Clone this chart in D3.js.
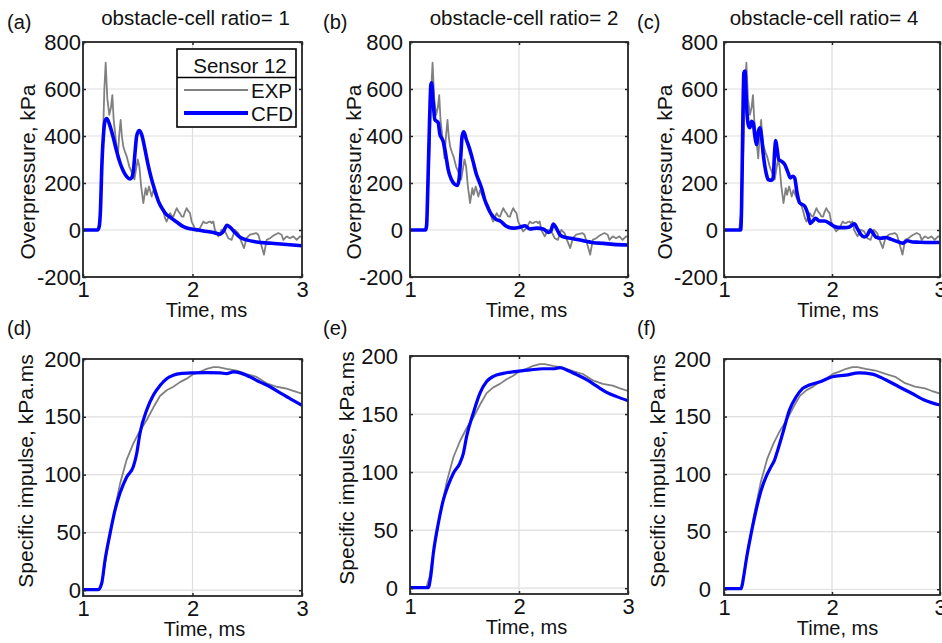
<!DOCTYPE html>
<html>
<head>
<meta charset="utf-8">
<script src="https://cdn.jsdelivr.net/npm/d3@7"></script>
<style>
  body { margin: 0; background: #fff; }
  svg { font-family: "Liberation Sans", Arial, sans-serif; }
</style>
</head>
<body>
<svg id="fig" width="942" height="643"></svg>
<script>
"use strict";

// time in ms, overpressure in kPa, impulse in kPa.ms
var timeTicks = [1, 2, 3];
var pressureTicks = [-200, 0, 200, 400, 600, 800];
var impulseTicks = [0, 50, 100, 150, 200];
var ratios = [1, 2, 4];
var letters = ["(a)", "(b)", "(c)", "(d)", "(e)", "(f)"];
var seriesNames = ["EXP", "CFD"];

var expPressure = [[1.00,0],[1.14,0],[1.16,80],[1.18,350],[1.195,600],[1.207,712],[1.222,560],[1.24,490],
  [1.255,520],[1.268,574],[1.28,470],[1.29,426],[1.305,360],[1.317,305],[1.33,400],[1.344,468],[1.355,400],
  [1.368,355],[1.385,330],[1.40,312],[1.423,270],[1.45,240],[1.47,215],[1.485,260],[1.50,300],[1.515,270],
  [1.53,190],[1.551,114],[1.572,178],[1.584,150],[1.603,185],[1.615,165],[1.627,142],[1.643,170],[1.66,150],
  [1.68,130],[1.703,114],[1.72,100],[1.733,80],[1.75,50],[1.764,36],[1.78,55],[1.795,72],[1.81,60],[1.825,57],
  [1.84,75],[1.856,93],[1.87,80],[1.886,71],[1.90,58],[1.917,57],[1.93,75],[1.947,93],[1.962,80],[1.977,72],
  [1.992,36],[2.014,15],[2.038,-6],[2.068,8],[2.099,36],[2.115,30],[2.129,29],[2.145,34],[2.16,36],[2.175,30],
  [2.19,36],[2.205,0],[2.236,-27],[2.266,1],[2.297,-6],[2.327,-35],[2.357,-42],[2.388,1],[2.418,-13],[2.44,-42],
  [2.47,-77],[2.494,-35],[2.525,-20],[2.555,-16],[2.58,-13],[2.601,-20],[2.632,-70],[2.653,-105],[2.677,-42],
  [2.708,-35],[2.73,-27],[2.753,-20],[2.784,-13],[2.814,-20],[2.83,-42],[2.86,-27],[2.89,-35],[2.921,-27],
  [2.951,-42],[2.982,-27],[3.0,-30]];

var cfdPressure1 = [[1.00,0],[1.135,0],[1.149,17],[1.161,102],[1.17,244],[1.186,399],[1.201,463],[1.218,474],
  [1.247,442],[1.277,392],[1.307,336],[1.338,286],[1.368,251],[1.399,227],[1.429,217],[1.444,222],[1.46,251],
  [1.475,329],[1.49,399],[1.512,423],[1.536,406],[1.566,343],[1.597,272],[1.627,215],[1.658,166],[1.688,123],
  [1.718,95],[1.764,65],[1.795,55],[1.825,44],[1.856,34],[1.917,14],[1.977,5],[2.038,1],[2.099,-4],[2.19,-11],
  [2.251,-18],[2.282,-6],[2.315,20],[2.342,12],[2.388,-11],[2.434,-31],[2.494,-42],[2.586,-51],[2.708,-56],
  [2.86,-62],[3.0,-67]];

var cfdPressure2 = [[1.00,0],[1.143,0],[1.152,17],[1.167,244],[1.179,456],[1.192,620],[1.198,626],[1.213,541],
  [1.228,470],[1.244,463],[1.259,456],[1.274,407],[1.289,392],[1.304,378],[1.32,343],[1.335,300],[1.35,258],
  [1.38,215],[1.411,194],[1.435,190],[1.45,215],[1.466,314],[1.478,399],[1.493,418],[1.517,385],[1.548,343],
  [1.578,293],[1.609,237],[1.639,201],[1.66,173],[1.685,130],[1.715,95],[1.746,67],[1.791,45],[1.826,39],
  [1.887,15],[1.948,8],[2.009,12],[2.055,18],[2.101,4],[2.162,8],[2.223,4],[2.269,-10],[2.29,-6],[2.315,25],
  [2.339,11],[2.376,-21],[2.422,-31],[2.498,-37],[2.59,-46],[2.682,-54],[2.774,-57],[2.865,-61],[3.0,-64]];

var cfdPressure4 = [[1.00,0],[1.154,0],[1.163,102],[1.172,385],[1.184,669],[1.194,676],[1.209,527],[1.224,449],
  [1.24,435],[1.255,463],[1.27,456],[1.286,399],[1.301,364],[1.316,414],[1.332,435],[1.347,399],[1.362,329],
  [1.378,272],[1.393,237],[1.409,215],[1.439,212],[1.455,222],[1.47,343],[1.479,381],[1.492,343],[1.507,300],
  [1.531,293],[1.562,279],[1.593,244],[1.614,222],[1.639,229],[1.654,222],[1.676,159],[1.70,116],[1.746,102],
  [1.777,67],[1.799,28],[1.823,38],[1.848,50],[1.885,38],[1.931,38],[1.977,28],[2.023,15],[2.069,10],
  [2.115,10],[2.161,13],[2.207,26],[2.237,4],[2.268,-20],[2.299,-30],[2.33,-20],[2.354,1],[2.376,-11],
  [2.406,-30],[2.452,-35],[2.498,-32],[2.544,-39],[2.606,-49],[2.652,-56],[2.698,-46],[2.744,-51],[2.805,-52],
  [2.898,-53],[3.0,-53]];

var expImpulse = [[1.00,0.5],[1.15,0.5],[1.18,10],[1.216,32],[1.247,48],[1.277,64],[1.338,92],[1.399,113],
  [1.46,127],[1.52,138],[1.581,147],[1.642,158],[1.703,168],[1.764,173],[1.825,176],[1.886,180],[1.947,183],
  [2.008,187],[2.069,189],[2.13,191.5],[2.19,193],[2.236,193],[2.312,191.5],[2.403,190],[2.495,187],
  [2.586,184.5],[2.677,179],[2.769,176],[2.86,174.4],[2.92,172.4],[3.0,170]];

var cfdImpulse1 = [[1.00,0.5],[1.14,0.5],[1.171,6],[1.201,26],[1.247,49],[1.293,69.5],[1.338,84],[1.399,98],
  [1.46,107],[1.49,118],[1.52,135.6],[1.581,155.7],[1.642,168.7],[1.703,177],[1.764,183],[1.825,186],
  [1.886,187.4],[2.008,188],[2.13,188.2],[2.251,188],[2.312,187.4],[2.373,188.8],[2.434,188],[2.525,184.5],
  [2.617,180],[2.708,176],[2.8,170.7],[2.89,165.8],[3.0,160]];

var cfdImpulse2 = [[1.00,0.5],[1.168,0.5],[1.19,10],[1.214,30],[1.26,56],[1.306,76],[1.352,89],[1.398,99],
  [1.459,108],[1.489,116],[1.52,131],[1.581,151],[1.642,168],[1.703,178],[1.765,182.5],[1.856,185],
  [1.979,186.8],[2.1,188],[2.223,189],[2.315,189],[2.376,190],[2.437,188],[2.529,184],[2.62,179.6],
  [2.713,174],[2.804,168.7],[2.896,165],[3.0,161.5]];

var cfdImpulse4 = [[1.00,0.5],[1.16,0.5],[1.182,11],[1.206,25.5],[1.252,48.6],[1.298,69],[1.344,86],
  [1.39,97.9],[1.436,106.5],[1.467,112],[1.498,121],[1.544,135.5],[1.606,155.7],[1.667,167],[1.729,174.5],
  [1.79,177.4],[1.882,180],[2.005,184.6],[2.128,186],[2.25,188],[2.373,186.9],[2.496,182],[2.619,175.9],
  [2.742,170],[2.865,164],[3.0,160]];

var cfdPressure = [cfdPressure1, cfdPressure2, cfdPressure4];
var cfdImpulse = [cfdImpulse1, cfdImpulse2, cfdImpulse4];

var expColor = "#808080";
var cfdColor = "#0000ff";
var axisColor = "#262626";
var gridColor = "#dedede";

// layout of the six axes
var panels = [
  { left: 83,  top: 42,  w: 219, h: 235, row: 0, col: 0, yl: -56, pad: 2,  xl: 14 },
  { left: 410, top: 42,  w: 218, h: 235, row: 0, col: 1, yl: -57, pad: 7,  xl: 7.5 },
  { left: 724, top: 42,  w: 216, h: 235, row: 0, col: 2, yl: -60, pad: 6,  xl: 6 },
  { left: 83,  top: 359, w: 219, h: 237, row: 1, col: 0, yl: -58, pad: 2,  xl: 12 },
  { left: 410, top: 356, w: 218, h: 238, row: 1, col: 1, yl: -64, pad: 12, xl: 7.5 },
  { left: 724, top: 359, w: 216, h: 236, row: 1, col: 2, yl: -67, pad: 13, xl: 5.5 }
];
var titleShift = [3, 5, -8];

var svg = d3.select("#fig");
var defs = svg.append("defs");

panels.forEach(function (p, i) {
  var isP = p.row === 0;
  var x = d3.scaleLinear().domain([1, 3]).range([0, p.w]);
  var y = d3.scaleLinear().domain(isP ? [-200, 800] : [-5, 200]).range([p.h, 0]);
  var yTicks = isP ? pressureTicks : impulseTicks;
  var g = svg.append("g").attr("transform", "translate(" + p.left + "," + p.top + ")");

  defs.append("clipPath").attr("id", "clip" + i)
    .append("rect").attr("width", p.w).attr("height", p.h);

  // grid
  g.append("g").selectAll("line").data(yTicks).enter().append("line")
    .attr("x1", 0).attr("x2", p.w)
    .attr("y1", function (d) { return y(d); }).attr("y2", function (d) { return y(d); })
    .attr("stroke", gridColor).attr("stroke-width", 1.2);
  g.append("g").selectAll("line").data(timeTicks).enter().append("line")
    .attr("y1", 0).attr("y2", p.h)
    .attr("x1", function (d) { return x(d); }).attr("x2", function (d) { return x(d); })
    .attr("stroke", gridColor).attr("stroke-width", 1.2);

  // curves
  var line = d3.line()
    .x(function (d) { return x(d[0]); })
    .y(function (d) { return y(d[1]); });
  var plot = g.append("g").attr("clip-path", "url(#clip" + i + ")");
  plot.append("path")
    .datum(isP ? expPressure : expImpulse)
    .attr("fill", "none").attr("stroke", expColor).attr("stroke-width", 1.8)
    .attr("stroke-linejoin", "round")
    .attr("d", line.curve(d3.curveLinear));
  plot.append("path")
    .datum(isP ? cfdPressure[p.col] : cfdImpulse[p.col])
    .attr("fill", "none").attr("stroke", cfdColor).attr("stroke-width", isP ? 3.6 : 3.2)
    .attr("stroke-linejoin", "round")
    .attr("d", line.curve(d3.curveMonotoneX));

  // axes, MATLAB-style ticks pointing in, box on
  var fmt = function (d) { return String(d); };
  g.append("g").call(d3.axisLeft(y).tickValues(yTicks).tickSizeInner(-3).tickSizeOuter(0)
    .tickPadding(p.pad).tickFormat(fmt));
  g.append("g").attr("transform", "translate(0," + p.h + ")")
    .call(d3.axisBottom(x).tickValues(timeTicks).tickSizeInner(-3).tickSizeOuter(0)
    .tickPadding(4).tickFormat(fmt));
  g.append("g").attr("transform", "translate(" + p.w + ",0)")
    .call(d3.axisRight(y).tickValues(yTicks).tickSizeInner(-3).tickSizeOuter(0).tickFormat(""));
  g.append("g")
    .call(d3.axisTop(x).tickValues(timeTicks).tickSizeInner(-3).tickSizeOuter(0).tickFormat(""));
  g.selectAll(".domain").remove();
  g.selectAll(".tick line").attr("stroke", axisColor).attr("stroke-width", 1.5);
  g.selectAll(".tick text").attr("fill", "#111").attr("font-size", 22)
    .attr("font-family", "Liberation Sans, Arial, sans-serif");
  g.append("rect").attr("width", p.w).attr("height", p.h)
    .attr("fill", "none").attr("stroke", axisColor).attr("stroke-width", 1.8);

  // labels
  g.append("text")
    .attr("transform", "translate(" + p.yl + "," + (isP ? 130 : 112) + ") rotate(-90)")
    .attr("text-anchor", "middle").attr("dominant-baseline", "central")
    .attr("font-size", 21).attr("fill", "#111")
    .text(isP ? "Overpressure, kPa" : "Specific impulse, kPa.ms");
  g.append("text")
    .attr("x", p.w / 2 + p.xl).attr("y", p.h + 33)
    .attr("text-anchor", "middle").attr("dominant-baseline", "central")
    .attr("font-size", 20).attr("fill", "#111")
    .text("Time, ms");

  svg.append("text")
    .attr("x", p.col === 0 ? 7 : p.left - 87)
    .attr("y", isP ? 29 : 335)
    .attr("font-size", 20).attr("fill", "#111")
    .text(letters[i]);

  if (isP) {
    svg.append("text")
      .attr("x", p.left + p.w / 2 + titleShift[p.col]).attr("y", 25)
      .attr("text-anchor", "middle").attr("font-size", 20.5).attr("fill", "#111")
      .text("obstacle-cell ratio= " + ratios[p.col]);
  }

  // legend only in the first panel
  if (i === 0) {
    var lg = g.append("g").attr("transform", "translate(" + (p.w - 125) + ",7)");
    lg.append("rect").attr("width", 119).attr("height", 78)
      .attr("fill", "#fff").attr("stroke", "#000").attr("stroke-width", 1.6);
    lg.append("line").attr("x1", 0).attr("x2", 119).attr("y1", 28.5).attr("y2", 28.5)
      .attr("stroke", "#000").attr("stroke-width", 1.4);
    lg.append("text").attr("x", 63).attr("y", 16).attr("text-anchor", "middle")
      .attr("dominant-baseline", "central").attr("font-size", 20.5).attr("fill", "#111")
      .text("Sensor 12");
    var entries = lg.selectAll(".entry").data(seriesNames).enter().append("g")
      .attr("transform", function (d, k) { return "translate(0," + (41 + k * 23) + ")"; });
    entries.append("line").attr("x1", 7).attr("x2", 71)
      .attr("stroke", function (d, k) { return k === 0 ? expColor : cfdColor; })
      .attr("stroke-width", function (d, k) { return k === 0 ? 1.8 : 4; });
    entries.append("text").attr("x", 74).attr("dominant-baseline", "central")
      .attr("font-size", 20.5).attr("fill", "#111")
      .text(function (d) { return d; });
  }
});
</script>
</body>
</html>
